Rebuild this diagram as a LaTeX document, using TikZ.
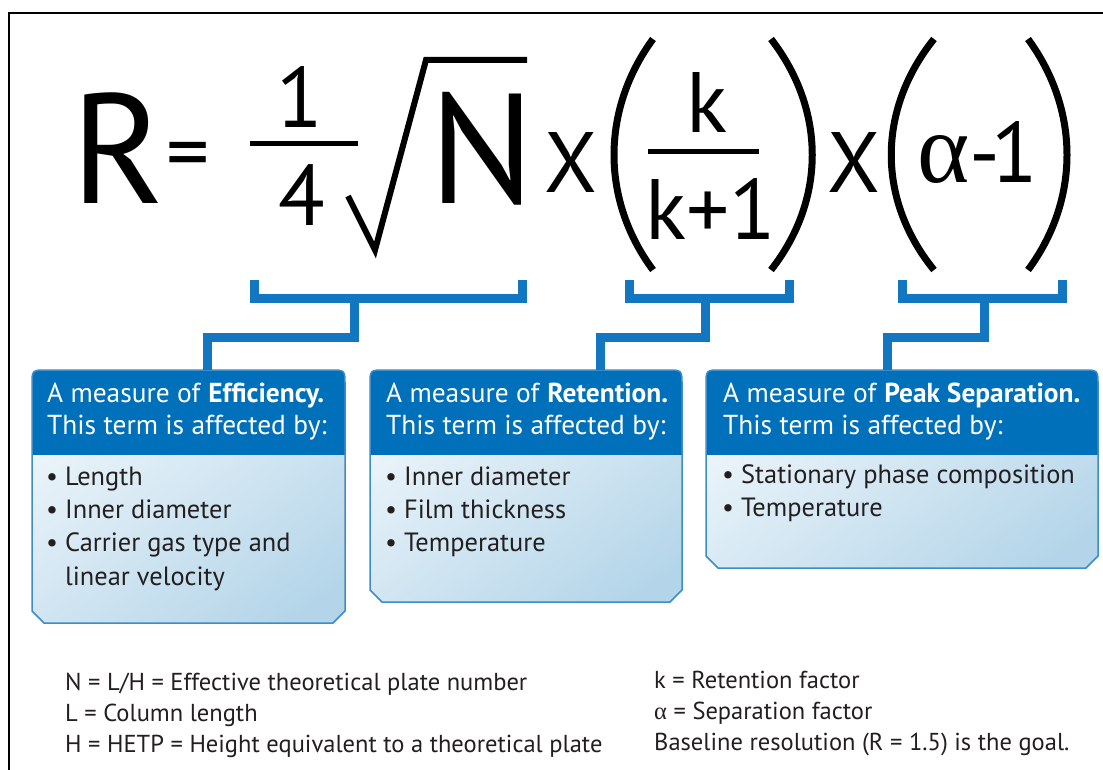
\documentclass[tikz,border=0pt]{standalone}
\usepackage{fontspec}
\setmainfont{PT Sans}
\newfontfamily\grk{Liberation Serif}
\usetikzlibrary{calc}
\definecolor{hdrblue}{RGB}{0,112,186}
\definecolor{brkblue}{RGB}{18,118,192}
\definecolor{edgeblue}{RGB}{62,140,200}
\definecolor{bodylight}{RGB}{242,248,252}
\definecolor{bodydark}{RGB}{180,213,233}
\definecolor{ink}{RGB}{35,31,32}
\newcommand\stack[1]{\begin{tabular}[t]{@{}l@{}}#1\end{tabular}}
\newcommand\boxpath[1]{($(#1.south west)+(0,-12)$) -- ($(#1.north west)+(0,15)$) .. controls (#1.north west) .. ($(#1.north west)+(15,0)$) -- ($(#1.north east)+(-15,0)$) .. controls (#1.north east) .. ($(#1.north east)+(0,15)$) -- ($(#1.south east)+(0,-12)$) -- ($(#1.south east)+(-12,0)$) -- ($(#1.south west)+(12,0)$) -- cycle}
\newcommand\gcbox[2]{%
  \begin{scope}
    \clip \boxpath{#1};
    \shade[shading=axis, top color=bodylight, bottom color=bodydark, shading angle=35] ($(#1.north west)+(-20,-20)$) rectangle ($(#1.south east)+(20,20)$);
    \fill[hdrblue] ($(#1.north west)+(-2,-2)$) rectangle ($(#1.north east)+(2,#2)$);
  \end{scope}
  \draw[edgeblue, line width=1.5bp] \boxpath{#1};
}
\tikzset{
  brk/.style={draw=brkblue, line width=9bp, line cap=butt, line join=miter},
  paren/.style={draw=black, line width=7bp, line cap=butt},
  bigsym/.style={inner sep=0, anchor=base, text=black, font=\fontsize{157}{157}\selectfont},
  midsym/.style={inner sep=0, anchor=base, text=black, font=\fontsize{86}{86}\selectfont},
  hdrtext/.style={inner sep=0, anchor=base west, text=white, font=\fontsize{27.5}{33}\selectfont},
  bodytext/.style={inner sep=0, anchor=base west, text=ink, font=\fontsize{26.5}{33.5}\selectfont},
  foot/.style={inner sep=0, anchor=base west, text=ink, font=\fontsize{24.6}{31}\selectfont},
  boxarea/.style={inner sep=0, anchor=north west, outer sep=0},
}
\begin{document}
\begin{tikzpicture}[x=1bp, y=-1bp]
\useasboundingbox (0,0) rectangle (1103,770);
\fill[white] (0,0) rectangle (1103,770);
\draw[line width=1.5bp] (9,770) -- (9,13) -- (1103,13);

% ---------- formula ----------
\node[bigsym] (R) at (118,203) {R};
\node[midsym] (eq) at (188,181) {=};
\node[midsym] (one) at (300,127) {1};
\draw[line width=5bp] (250,143) -- (358,143);
\node[midsym] (four) at (302,225) {4};
\draw[line width=6bp, line join=miter, line cap=butt] (348,196) -- (375,250) -- (426,60) -- (527,60);
\node[bigsym] (N) at (482,203) {N};
\node[midsym] (x1) at (571,192) {X};
\draw[paren] (653,39) .. controls (601,110) and (601,200) .. (653,270);
\node[midsym] (knum) at (707,132) {k};
\draw[line width=5bp] (648,151) -- (759,151);
\node[midsym] (kden) at (711,239) {k+1};
\draw[paren] (771,39) .. controls (826,110) and (826,200) .. (771,270);
\node[midsym] (x2) at (854,192) {X};
\draw[paren] (934,39) .. controls (877,110) and (877,200) .. (934,270);
\node[inner sep=0, anchor=base, font=\grk\fontsize{100}{100}\selectfont] (alpha) at (944,182) {α};
\node[midsym] (minus) at (985,182) {-};
\node[midsym] (m1) at (1015,182) {1};
\draw[paren] (1028,39) .. controls (1080,110) and (1080,200) .. (1028,270);

% ---------- boxes ----------
\node[boxarea, minimum width=313bp, minimum height=253bp] (eff) at (32,370) {};
\node[boxarea, minimum width=312bp, minimum height=232bp] (ret) at (370,370) {};
\node[boxarea, minimum width=392bp, minimum height=198bp] (sep) at (706,370) {};
\gcbox{eff}{85}
\gcbox{ret}{85}
\gcbox{sep}{85}

\node[hdrtext] (effh) at (47,402) {\stack{A measure of \textbf{Efficiency.}\\This term is affected by:}};
\node[bodytext] (effb) at (46,485) {\stack{• Length\\• Inner diameter\\• Carrier gas type and\\\phantom{• }linear velocity}};
\node[hdrtext] (reth) at (386,402) {\stack{A measure of \textbf{Retention.}\\This term is affected by:}};
\node[bodytext] (retb) at (385,485) {\stack{• Inner diameter\\• Film thickness\\• Temperature}};
\node[hdrtext] (seph) at (723,402) {\stack{A measure of \textbf{Peak Separation.}\\This term is affected by:}};
\node[bodytext] (sepb) at (722,483) {\stack{• Stationary phase composition\\• Temperature}};

% ---------- brackets ----------
\coordinate (b1l) at (254,280); \coordinate (b1r) at (522,280); \coordinate (b1m) at (354,298);
\coordinate (b2l) at (629,280); \coordinate (b2r) at (789,280); \coordinate (b2m) at (705,298);
\coordinate (b3l) at (902,280); \coordinate (b3r) at (1062,280); \coordinate (b3m) at (984,298);
\draw[brk] (b1l) -- (b1l |- b1m) -- (b1r |- b1m) -- (b1r);
\draw[brk] (b2l) -- (b2l |- b2m) -- (b2r |- b2m) -- (b2r);
\draw[brk] (b3l) -- (b3l |- b3m) -- (b3r |- b3m) -- (b3r);
\draw[brk] (b1m) -- ++(0,39) -| ($(eff.north west)+(175,0)$);
\draw[brk] (b2m) -- ++(0,39) -| ($(ret.north west)+(230,0)$);
\draw[brk] (b3m) -- ++(0,39) -| ($(sep.north west)+(181,0)$);

% ---------- footnotes ----------
\node[foot] (f1) at (65,690) {N = L/H = Effective theoretical plate number};
\node[foot] (f2) at (65,721) {L = Column length};
\node[foot] (f3) at (65,752) {H = HETP = Height equivalent to a theoretical plate};
\node[foot] (f4) at (654,688) {k = Retention factor};
\node[foot] (f5) at (654,719) {{\grk α} = Separation factor};
\node[foot] (f6) at (654,750) {Baseline resolution (R = 1.5) is the goal.};
\end{tikzpicture}
\end{document}
